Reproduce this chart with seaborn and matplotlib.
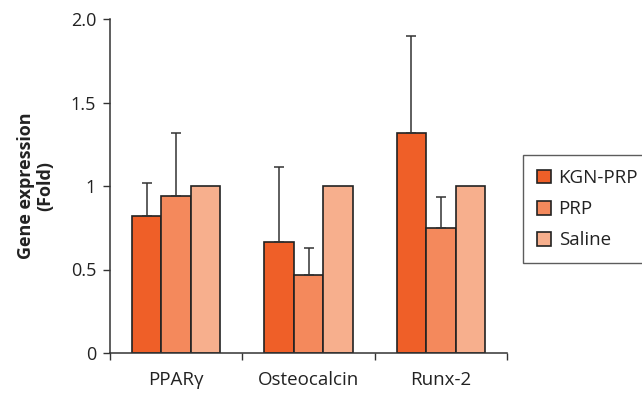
import matplotlib
matplotlib.use("Agg")
import matplotlib.pyplot as plt
import seaborn as sns
import pandas as pd
import numpy as np

genes = ["PPARγ", "Osteocalcin", "Runx-2"]
groups = ["KGN-PRP", "PRP", "Saline"]
kgn_prp = [0.82, 0.665, 1.32]
prp = [0.94, 0.47, 0.75]
saline = [1.0, 1.0, 1.0]
kgn_prp_err = [0.20, 0.45, 0.58]
prp_err = [0.38, 0.16, 0.185]
saline_err = [0.0, 0.0, 0.0]
y_ticks = [0, 0.5, 1, 1.5, 2.0]
y_tick_labels = ["0", "0.5", "1", "1.5", "2.0"]

colors = ["#EF5F28", "#F4895C", "#F7AF8D"]
bar_width = 0.67

df = pd.DataFrame({
    "gene": genes * 3,
    "group": [g for g in groups for _ in genes],
    "value": kgn_prp + prp + saline,
    "err": kgn_prp_err + prp_err + saline_err,
})

sns.set_style("white")
plt.rcParams["font.family"] = ["Open Sans", "DejaVu Sans"]

fig = plt.figure(figsize=(6.42, 3.94), dpi=100)
ax = fig.add_axes([110 / 642, 41 / 394, 397 / 642, 334 / 394])

sns.barplot(data=df, x="gene", y="value", hue="group", order=genes,
            hue_order=groups, palette=colors, saturation=1, width=bar_width,
            errorbar=None, edgecolor="#222222", linewidth=1.2, ax=ax,
            legend=True)

# upward-only error bars at each bar's centre
for r in df.itertuples():
    if r.err <= 0:
        continue
    gi = genes.index(r.gene)
    hi = groups.index(r.group)
    x = gi - bar_width / 2 + bar_width / 6 * (2 * hi + 1)
    ax.errorbar([x], [r.value], yerr=[[0], [r.err]], fmt="none",
                ecolor="#333333", elinewidth=1.1, capsize=3.5, capthick=1.1,
                zorder=1)

ax.set_xlim(-0.5, 2.5)
ax.set_ylim(0, 2.0)
ax.set_yticks(y_ticks)
ax.set_yticklabels(y_tick_labels, fontsize=13, color="#222222")
ax.set_xticks([0, 1, 2])
ax.set_xticklabels(genes, fontsize=13.5, color="#222222")
ax.set_xticks([-0.5, 0.5, 1.5, 2.5], minor=True)
ax.tick_params(axis="x", which="major", length=0, pad=13)
ax.tick_params(axis="x", which="minor", length=5, width=1, color="#333333",
               direction="out", bottom=True)
ax.tick_params(axis="y", length=5, width=1, color="#333333", direction="out",
               left=True, pad=5)
ax.set_xlabel("")
ax.set_ylabel("Gene expression\n(Fold)", fontsize=13, fontweight="bold",
              color="#222222", labelpad=12, linespacing=1.1)
for s in ["top", "right"]:
    ax.spines[s].set_visible(False)
for s in ["left", "bottom"]:
    ax.spines[s].set_color("#333333")
    ax.spines[s].set_linewidth(1.1)

handles, labels = ax.get_legend_handles_labels()
ax.get_legend().remove()
leg = fig.legend(handles, labels, loc="upper left",
                 bbox_to_anchor=(523 / 642, 1 - 155 / 394),
                 frameon=True, fancybox=False, fontsize=13.5,
                 handlelength=0.75, handleheight=0.75, handletextpad=0.4,
                 borderpad=0.75, labelspacing=0.7, borderaxespad=0)
leg.get_frame().set_edgecolor("#333333")
leg.get_frame().set_linewidth(1.0)
for t in leg.get_texts():
    t.set_color("#222222")

fig.savefig("out.png", dpi=100)
